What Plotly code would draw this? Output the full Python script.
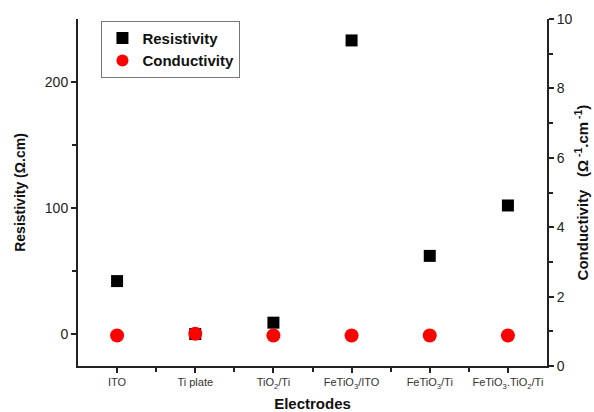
import plotly.graph_objects as go

categories = ["ITO", "Ti plate", "TiO<sub>2</sub>/Ti", "FeTiO<sub>3</sub>/ITO",
              "FeTiO<sub>3</sub>/Ti", "FeTiO<sub>3</sub>.TiO<sub>2</sub>/Ti"]
resistivity = [42, 0, 9, 233, 62, 102]
conductivity = [0.88, 0.93, 0.88, 0.88, 0.88, 0.88]

xpos = list(range(len(categories)))

fig = go.Figure()
fig.add_trace(go.Scatter(x=xpos, y=resistivity, mode="markers", name="Resistivity",
                         marker=dict(symbol="square", size=12, color="black"),
                         yaxis="y"))
fig.add_trace(go.Scatter(x=xpos, y=conductivity, mode="markers", name="Conductivity",
                         marker=dict(symbol="circle", size=14, color="#ff0000"),
                         yaxis="y2"))

axis_font = dict(family="Liberation Sans, Arial", size=14, color="#222")
fig.update_layout(
    width=594, height=412,
    margin=dict(l=78, r=47, t=19, b=46, autoexpand=False),
    paper_bgcolor="white", plot_bgcolor="white",
    font=dict(family="Liberation Sans, Arial", color="#111"),
    showlegend=True,
    legend=dict(x=0.05, y=0.995, xanchor="left", yanchor="top",
                bordercolor="#777", borderwidth=1, bgcolor="white",
                font=dict(size=15, family="Liberation Sans, Arial", weight="bold"),
                tracegroupgap=0, itemsizing="constant"),
    xaxis=dict(range=[-0.5, 5.5], tickmode="array", tickvals=xpos, ticktext=categories,
               automargin=False,
               tickfont=dict(size=11, family="Liberation Sans, Arial", color="#333"),
               ticks="outside", ticklen=5, tickwidth=1.5, tickcolor="#222",
               minor=dict(tickmode="array", tickvals=[0.5, 1.5, 2.5, 3.5, 4.5],
                          ticks="outside", ticklen=4, tickwidth=1.5, tickcolor="#222"),
               showline=True, linecolor="#222", linewidth=2, showgrid=False, zeroline=False,
               title=dict(text="<b>Electrodes</b>", font=dict(size=15, color="#111"), standoff=12)),
    yaxis=dict(range=[-25.4, 250], tickmode="array", tickvals=[0, 100, 200],
               automargin=False,
               tickfont=axis_font,
               ticks="outside", ticklen=5, tickwidth=1.5, tickcolor="#222",
               minor=dict(tickmode="array", tickvals=[50, 150],
                          ticks="outside", ticklen=4, tickwidth=1.5, tickcolor="#222"),
               showline=True, linecolor="#222", linewidth=2, showgrid=False, zeroline=False,
               title=dict(text="<b>Resistivity (Ω.cm)</b>", font=dict(size=14, color="#111"), standoff=16)),
    yaxis2=dict(range=[0, 10], overlaying="y", side="right", tickmode="array",
                automargin=False,
                tickvals=[0, 2, 4, 6, 8, 10], tickfont=axis_font,
                ticks="outside", ticklen=5, tickwidth=1.5, tickcolor="#222",
                minor=dict(tickmode="array", tickvals=[1, 3, 5, 7, 9],
                           ticks="outside", ticklen=4, tickwidth=1.5, tickcolor="#222"),
                showline=True, linecolor="#222", linewidth=2, showgrid=False, zeroline=False,
                title=dict(text="<b>Conductivity   (Ω<sup> -1</sup>.cm<sup> -1</sup>)</b>",
                           font=dict(size=15, color="#111"), standoff=6)),
)

fig.write_html("out.html")
